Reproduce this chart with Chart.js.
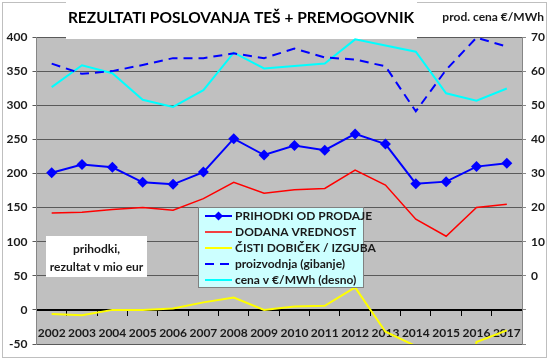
<!DOCTYPE html>
<html>
<head>
<meta charset="utf-8">
<script src="https://cdn.jsdelivr.net/npm/chart.js@4/dist/chart.umd.min.js"></script>
<style>
  html, body { margin: 0; padding: 0; background: #fff; }
  #wrap { width: 549px; height: 360px; }
</style>
</head>
<body>
<div id="wrap"><canvas id="chart" width="549" height="360"></canvas></div>
<script>
// Categories and series
const years = ["2002", "2003", "2004", "2005", "2006", "2007", "2008", "2009",
  "2010", "2011", "2012", "2013", "2014", "2015", "2016", "2017"];

// left axis, mio eur
const prihodki = [201, 213, 209, 187, 184, 202, 251, 227, 241, 234, 258, 243, 185, 188, 210, 215];
const dodana = [142, 143, 147, 150, 146, 163, 187, 171, 176, 178, 205, 183, 133, 108, 150, 155];
const dobicek = [-6, -8, 0, 0, 2, 11, 18, 0, 5, 6, 33, -32, -53, -350, -47, -30];
const proizvodnja = [361, 346, 350, 359, 369, 369, 376, 369, 383, 370, 367, 357, 291, 352, 399, 386];

// right axis, €/MWh
const cena = [55.3, 61.7, 59.4, 51.6, 49.5, 54.4, 65.4, 60.8, 61.5, 62.2, 69.3, 67.5, 65.7, 53.5, 51.3, 54.9];

const leftMin = -50, leftMax = 400, leftStep = 50;
const rightMin = -20, rightMax = 70, rightStep = 10;

const FONT = "Lato, 'Open Sans', sans-serif";
const TEXT = "#1a1a1a";

// Plot background, title, text box and legend
const decor = {
  id: "decor",
  beforeDraw(chart) {
    const { ctx, chartArea: a } = chart;
    ctx.save();
    ctx.fillStyle = "#fff";
    ctx.fillRect(0, 0, chart.width, chart.height);
    ctx.strokeStyle = "#bfbfbf";
    ctx.lineWidth = 1;
    ctx.strokeRect(2.5, 2.5, 544, 355);
    ctx.fillStyle = "#c0c0c0";
    ctx.fillRect(a.left, a.top, a.right - a.left, a.bottom - a.top);
    ctx.restore();
  },
  beforeDatasetsDraw(chart) {
    const { ctx } = chart;
    ctx.save();
    // title box overlaps the top of the plot a little
    ctx.fillStyle = "#fff";
    ctx.fillRect(66, 0, 351, 39);
    ctx.fillStyle = "#000";
    ctx.font = "bold 15.5px " + FONT;
    ctx.textAlign = "center";
    ctx.textBaseline = "middle";
    ctx.fillText("REZULTATI POSLOVANJA TEŠ + PREMOGOVNIK", 241, 18);
    ctx.font = "bold 12px " + FONT;
    ctx.textAlign = "right";
    ctx.fillStyle = TEXT;
    ctx.fillText("prod. cena €/MWh", 544, 17);
    ctx.restore();
  },
  afterDatasetsDraw(chart) {
    const { ctx } = chart;
    ctx.save();
    // text box
    ctx.fillStyle = "#fff";
    ctx.fillRect(46, 236, 101, 41);
    ctx.fillStyle = TEXT;
    ctx.font = "bold 12px " + FONT;
    ctx.textAlign = "center";
    ctx.textBaseline = "middle";
    ctx.fillText("prihodki,", 96.5, 249);
    ctx.fillText("rezultat v mio eur", 96.5, 267);

    // legend
    ctx.fillStyle = "#ccffff";
    ctx.fillRect(198.5, 207.5, 165, 80);
    ctx.strokeStyle = "#808080";
    ctx.lineWidth = 1;
    ctx.strokeRect(198.5, 207.5, 165, 80);
    ctx.textAlign = "left";
    chart.data.datasets.forEach(function (ds, i) {
      const y = 216 + i * 16;
      ctx.save();
      ctx.strokeStyle = ds.borderColor;
      ctx.lineWidth = ds.borderWidth;
      ctx.setLineDash(ds.borderDash || []);
      ctx.beginPath();
      ctx.moveTo(205, y);
      ctx.lineTo(232, y);
      ctx.stroke();
      ctx.restore();
      if (ds.pointRadius > 0) {
        ctx.fillStyle = ds.borderColor;
        ctx.beginPath();
        ctx.moveTo(218.5, y - 4.5);
        ctx.lineTo(223, y);
        ctx.lineTo(218.5, y + 4.5);
        ctx.lineTo(214, y);
        ctx.closePath();
        ctx.fill();
      }
      ctx.fillStyle = TEXT;
      ctx.fillText(ds.label, 235, y + 0.5);
    });
    ctx.restore();
  },
};

const canvasRef = document.getElementById("chart");

const myChart = new Chart(canvasRef, {
  type: "line",
  data: {
    labels: years,
    datasets: [
      {
        label: "PRIHODKI OD PRODAJE",
        data: prihodki,
        yAxisID: "y",
        borderColor: "#0000ff",
        backgroundColor: "#0000ff",
        borderWidth: 2,
        pointStyle: "rectRot",
        pointRadius: 5.5,
        pointBorderWidth: 0,
      },
      {
        label: "DODANA VREDNOST",
        data: dodana,
        yAxisID: "y",
        borderColor: "#ff0000",
        borderWidth: 1.5,
        pointRadius: 0,
      },
      {
        label: "ČISTI DOBIČEK / IZGUBA",
        data: dobicek,
        yAxisID: "y",
        borderColor: "#ffff00",
        borderWidth: 2,
        pointRadius: 0,
      },
      {
        label: "proizvodnja (gibanje)",
        data: proizvodnja,
        yAxisID: "y",
        borderColor: "#0000ff",
        borderWidth: 2,
        borderDash: [9, 6],
        pointRadius: 0,
      },
      {
        label: "cena v €/MWh (desno)",
        data: cena,
        yAxisID: "y1",
        borderColor: "#00ffff",
        borderWidth: 2,
        pointRadius: 0,
      },
    ],
  },
  options: {
    responsive: false,
    animation: false,
    devicePixelRatio: 1,
    layout: { padding: { top: 37, bottom: 16, left: 0, right: 0 } },
    elements: { line: { tension: 0 } },
    plugins: {
      legend: { display: false },
      tooltip: { enabled: false },
    },
    scales: {
      x: {
        position: { y: 0 },
        offset: true,
        grid: {
          offset: true,
          drawOnChartArea: false,
          drawTicks: true,
          tickLength: 5,
          color: "#000",
        },
        border: { display: true, color: "#000", width: 2 },
        ticks: {
          color: TEXT,
          font: { family: FONT, size: 12, weight: "bold" },
          padding: 11,
          maxRotation: 0,
          autoSkip: false,
        },
      },
      y: {
        position: "left",
        min: leftMin,
        max: leftMax,
        grid: { color: "#5a5a5a", tickLength: 4 },
        border: { color: "#868686" },
        ticks: {
          stepSize: leftStep,
          color: TEXT,
          font: { family: FONT, size: 12, weight: "bold" },
          padding: 5,
        },
        afterFit: function (scale) {
          scale.width = 36.5;
        },
      },
      y1: {
        position: "right",
        min: rightMin,
        max: rightMax,
        grid: { drawOnChartArea: false, color: "#868686", tickLength: 4 },
        border: { color: "#868686" },
        ticks: {
          stepSize: rightStep,
          color: TEXT,
          font: { family: FONT, size: 12, weight: "bold" },
          padding: 5,
          callback: function (v) {
            return v < 0 ? "" : v;
          },
        },
        afterFit: function (scale) {
          scale.width = 27;
        },
      },
    },
  },
  plugins: [decor],
});
</script>
</body>
</html>
